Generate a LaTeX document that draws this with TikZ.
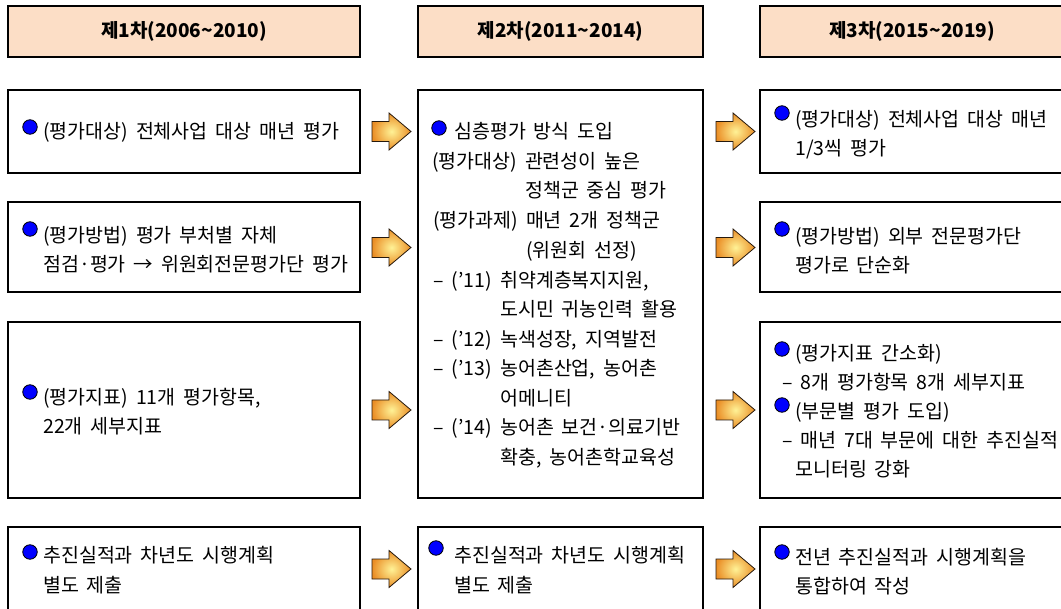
\documentclass[tikz,border=0pt]{standalone}
\usepackage{fontspec}
\setmainfont[WordSpace=1.8]{Noto Sans CJK KR}
\definecolor{hdfill}{RGB}{252,222,198}
\definecolor{arrin}{RGB}{255,242,150}
\definecolor{arrout}{RGB}{234,142,38}
\definecolor{bulblue}{RGB}{0,0,255}
\tikzset{
  box/.style={draw=black, line width=2.6pt, fill=white, inner sep=0pt},
  hdbox/.style={box, fill=hdfill},
  hdtxt/.style={font=\fontsize{19}{22}\selectfont\bfseries, inner sep=0pt},
  txt/.style={anchor=west, inner sep=0pt, text height=15.5pt, text depth=1pt, font=\fontsize{19.5}{22}\selectfont},
  bul/.style={circle, draw=black, fill=bulblue, line width=0.8pt, minimum size=14.5pt, inner sep=0pt},
  arrowfill/.style={draw=black!80!brown, line width=0.8pt, inner color=arrin, outer color=arrout},
  barrow/.pic={\path[arrowfill] (-19.5,-10) -- (-2.5,-10) -- (-2.5,-18.5) -- (19.5,0) -- (-2.5,18.5) -- (-2.5,10) -- (-19.5,10) -- cycle;}
}
\begin{document}
\begin{tikzpicture}[x=1pt,y=-1pt]
\useasboundingbox (0,0) rectangle (1061,609);
\clip (0,0) rectangle (1061,609);
\fill[white] (0,0) rectangle (1061,609);
% headers
\node[hdbox, minimum width=352pt, minimum height=51pt] (h1) at (184,31.5) {};
\node[hdbox, minimum width=285pt, minimum height=51pt] (h2) at (560.5,31.5) {};
\node[hdbox, minimum width=304pt, minimum height=51pt] (h3) at (912,31.5) {};
\node[hdtxt] (ht1) at (h1.center) {제1차(2006\textasciitilde 2010)};
\node[hdtxt] (ht2) at (h2.center) {제2차(2011\textasciitilde 2014)};
\node[hdtxt] (ht3) at (h3.center) {제3차(2015\textasciitilde 2019)};
% column 1 boxes
\node[box, minimum width=352pt, minimum height=83pt] (b11) at (184,131.5) {};
\node[box, minimum width=352pt, minimum height=90pt] (b12) at (184,247) {};
\node[box, minimum width=352pt, minimum height=176pt] (b13) at (184,410) {};
\node[box, minimum width=352pt, minimum height=85pt] (b14) at (184,569.5) {};
% column 2 boxes
\node[box, minimum width=285pt, minimum height=408pt] (b2) at (560.5,294) {};
\node[box, minimum width=285pt, minimum height=85pt] (b24) at (560.5,569.5) {};
% column 3 boxes
\node[box, minimum width=304pt, minimum height=83pt] (b31) at (912,131.5) {};
\node[box, minimum width=304pt, minimum height=90pt] (b32) at (912,247) {};
\node[box, minimum width=304pt, minimum height=176pt] (b33) at (912,410) {};
\node[box, minimum width=304pt, minimum height=85pt] (b34) at (912,569.5) {};
% column 1 text
\node[bul] (u11) at (30,127) {};
\node[txt] (t11) at (43,131) {(평가대상) 전체사업 대상 매년 평가};
\node[bul] (u12) at (30,229) {};
\node[txt] (t12a) at (43,235) {(평가방법) 평가 부처별 자체};
\node[txt] (t12b) at (43,264) {점검·평가 → 위원회전문평가단 평가};
\node[bul] (u13) at (30,392) {};
\node[txt] (t13a) at (43,397) {(평가지표) 11개 평가항목,};
\node[txt] (t13b) at (43,426) {22개 세부지표};
\node[bul] (u14) at (30,552) {};
\node[txt] (t14a) at (43,555) {추진실적과 차년도 시행계획};
\node[txt] (t14b) at (43,585) {별도 제출};
% column 2 text
\node[bul] (u21) at (439,128) {};
\node[txt] (c1) at (454,131) {심층평가 방식 도입};
\node[txt] (c2) at (432,161) {(평가대상) 관련성이 높은};
\node[txt] (c3) at (525,190) {정책군 중심 평가};
\node[txt] (c4) at (433,220) {(평가과제) 매년 2개 정책군};
\node[txt] (c5) at (526,250) {(위원회 선정)};
\node[txt] (c6a) at (433,280) {– (’11)};
\node[txt] (c6b) at (500,280) {취약계층복지지원,};
\node[txt] (c7) at (500,309) {도시민 귀농인력 활용};
\node[txt] (c8a) at (433,339) {– (’12)};
\node[txt] (c8b) at (500,339) {녹색성장, 지역발전};
\node[txt] (c9a) at (433,368) {– (’13)};
\node[txt] (c9b) at (500,368) {농어촌산업, 농어촌};
\node[txt] (c10) at (500,398) {어메니티};
\node[txt] (c11a) at (433,427) {– (’14)};
\node[txt] (c11b) at (500,427) {농어촌 보건·의료기반};
\node[txt] (c12) at (500,457) {확충, 농어촌학교육성};
\node[bul] (u24) at (436,548) {};
\node[txt] (t24a) at (454,555) {추진실적과 차년도 시행계획};
\node[txt] (t24b) at (454,585) {별도 제출};
% column 3 text
\node[bul] (u31) at (782,113) {};
\node[txt] (t31a) at (795,119) {(평가대상) 전체사업 대상 매년};
\node[txt] (t31b) at (795,148) {1/3씩 평가};
\node[bul] (u32) at (782,229) {};
\node[txt] (t32a) at (795,236) {(평가방법) 외부 전문평가단};
\node[txt] (t32b) at (795,265) {평가로 단순화};
\node[bul] (u33a) at (782,349) {};
\node[txt] (t33a) at (795,353) {(평가지표 간소화)};
\node[txt] (t33b) at (782,382) {– 8개 평가항목 8개 세부지표};
\node[bul] (u33b) at (782,405) {};
\node[txt] (t33c) at (795,411) {(부문별 평가 도입)};
\node[txt] (t33d) at (782,440) {– 매년 7대 부문에 대한 추진실적};
\node[txt] (t33e) at (795,469) {모니터링 강화};
\node[bul] (u34) at (782,552) {};
\node[txt] (t34a) at (795,557) {전년 추진실적과 시행계획을};
\node[txt] (t34b) at (795,586) {통합하여 작성};
% block arrows
\pic (a11) at (391.5,131.5) {barrow};
\pic (a12) at (391.5,247.5) {barrow};
\pic (a13) at (391.5,410) {barrow};
\pic (a14) at (391.5,569) {barrow};
\pic (a21) at (735.5,131.5) {barrow};
\pic (a22) at (735.5,247.5) {barrow};
\pic (a23) at (735.5,410) {barrow};
\pic (a24) at (735.5,569) {barrow};
\end{tikzpicture}
\end{document}
